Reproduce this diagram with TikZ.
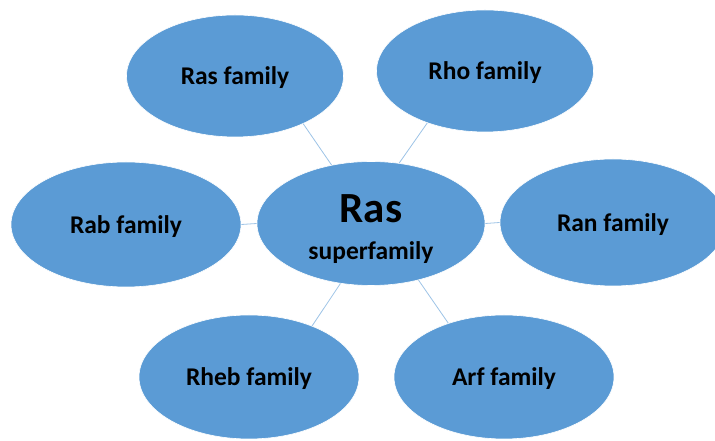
\documentclass[tikz,border=0pt]{standalone}
\usepackage{fontspec}
\setmainfont{Carlito}
\usetikzlibrary{shapes.geometric}
\definecolor{famblue}{RGB}{91,155,213}
\definecolor{linkblue}{RGB}{157,195,230}
\tikzset{
  famnode/.style={ellipse, fill=famblue, draw=white, line width=.6pt, inner sep=0pt,
    font=\bfseries\fontsize{25.5}{28}\selectfont, align=center},
  leafnode/.style={famnode, text depth=0pt},
  famlink/.style={draw=linkblue, line width=.8pt}
}

\begin{document}
\begin{tikzpicture}[x=1pt, y=1pt]
  \useasboundingbox (0, 0) rectangle (715, 441);
  \draw (371, 217.5) node[famnode, minimum width=228, minimum height=124] (hub) {{\fontsize{43}{43}\selectfont\rule{0pt}{40pt}Ras}\\[9pt]superfamily};
  \draw (235, 365) node[leafnode, minimum width=217, minimum height=122] (ras) {Ras family};
  \draw (485, 370) node[leafnode, minimum width=217, minimum height=122] (rho) {Rho family};
  \draw (126, 216.5) node[leafnode, minimum width=230, minimum height=125] (rab) {Rab family};
  \draw (613, 218.5) node[leafnode, minimum width=226, minimum height=127] (ran) {Ran family};
  \draw (249, 64) node[leafnode, minimum width=220, minimum height=124] (rheb) {Rheb family};
  \draw (504, 64) node[leafnode, minimum width=220, minimum height=124] (arf) {Arf family};
  \draw[famlink] (hub.124) -- (ras.-35);
  \draw[famlink] (hub.65) -- (rho.222);
  \draw[famlink] (hub.180) -- (rab.0);
  \draw[famlink] (hub.0) -- (ran.180);
  \draw[famlink] (hub.243) -- (rheb.39);
  \draw[famlink] (hub.-50) -- (arf.136);
\end{tikzpicture}
\end{document}
